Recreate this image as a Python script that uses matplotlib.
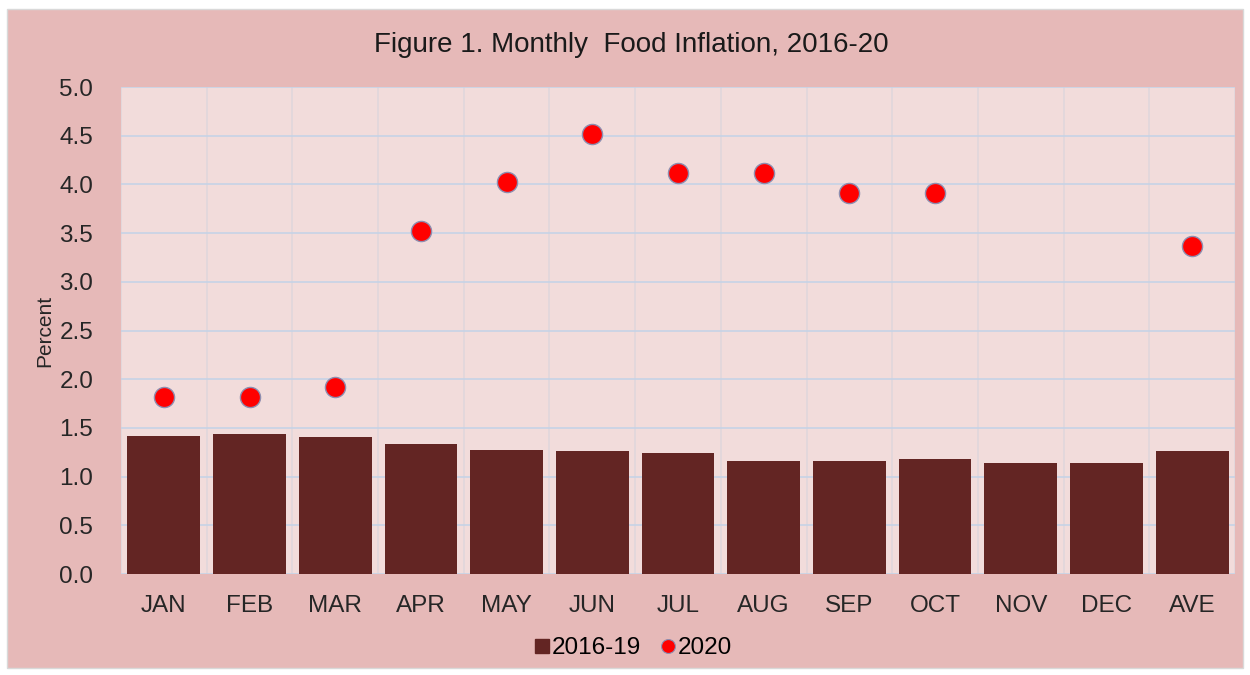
import numpy as np
import matplotlib.pyplot as plt
from matplotlib.patches import Rectangle
from matplotlib.lines import Line2D

plt.rcParams['font.family'] = ['Liberation Sans', 'DejaVu Sans']

months = ["JAN", "FEB", "MAR", "APR", "MAY", "JUN", "JUL", "AUG", "SEP", "OCT", "NOV", "DEC", "AVE"]
avg_2016_19 = [1.42, 1.44, 1.41, 1.33, 1.27, 1.26, 1.24, 1.16, 1.16, 1.18, 1.14, 1.14, 1.26]
months_2020 = ["JAN", "FEB", "MAR", "APR", "MAY", "JUN", "JUL", "AUG", "SEP", "OCT", "AVE"]
vals_2020 = [1.82, 1.82, 1.92, 3.52, 4.02, 4.52, 4.12, 4.12, 3.91, 3.91, 3.37]

bar_color = '#632523'
dot_color = '#FF0000'

fig = plt.figure(figsize=(12.5, 6.75), dpi=100)
fig.patch.set_facecolor('white')
# pink chart-area frame, behind the axes
fig.patches.append(Rectangle((7 / 1250, 7 / 675), 1236 / 1250, 659 / 675, transform=fig.transFigure,
                             facecolor='#E6B9B8', edgecolor='#D9D9D9', lw=1, zorder=-5))

ax = fig.add_axes([0.0968, 0.1496, 0.8912, 0.7215])
ax.set_facecolor('#F2DCDB')

x = np.arange(len(months))
x2020 = [months.index(m) for m in months_2020]

ax.bar(x, avg_2016_19, width=0.85, color=bar_color, zorder=3)
ax.scatter(x2020, vals_2020, s=210, color=dot_color, edgecolors='#8E8EB0', linewidths=1, zorder=4)

ax.set_xlim(-0.5, len(months) - 0.5)
ax.set_ylim(0, 5.0)
ax.set_yticks(np.arange(0, 5.01, 0.5))
ax.set_yticklabels(["%.1f" % v for v in np.arange(0, 5.01, 0.5)])
ax.set_xticks(x)
ax.set_xticklabels(months)
ax.set_xticks(np.arange(-0.5, len(months), 1), minor=True)

ax.grid(True, axis='y', which='major', color='#C6D3E6', lw=1.2, zorder=1)
ax.grid(True, axis='x', which='minor', color='#E0D6DC', lw=1.2, zorder=1)
ax.set_axisbelow(True)

for s in ax.spines.values():
    s.set_visible(False)
ax.tick_params(axis='both', which='both', length=0, labelsize=17.5, colors='#262626')
ax.tick_params(axis='x', pad=15)
ax.tick_params(axis='y', pad=20)

ax.set_ylabel("Percent", fontsize=15, color='#262626')
ax.yaxis.set_label_coords(-0.06, 0.5)

fig.text(0.505, 0.933, "Figure 1. Monthly  Food Inflation, 2016-20", ha='center', va='center',
         fontsize=20, color='#1a1a1a')

handles = [Line2D([], [], ls='none', marker='s', ms=10, color=bar_color),
           Line2D([], [], ls='none', marker='o', ms=10, color=dot_color, mec='#8E8EB0', mew=0.8)]
ax.legend(handles, ['2016-19', '2020'], loc='center', bbox_to_anchor=(0.46, -0.152), ncol=2,
          frameon=False, fontsize=17.5, handlelength=0.6, handletextpad=0.1, columnspacing=0.8)

fig.savefig("out.png", dpi=100, facecolor=fig.get_facecolor())
